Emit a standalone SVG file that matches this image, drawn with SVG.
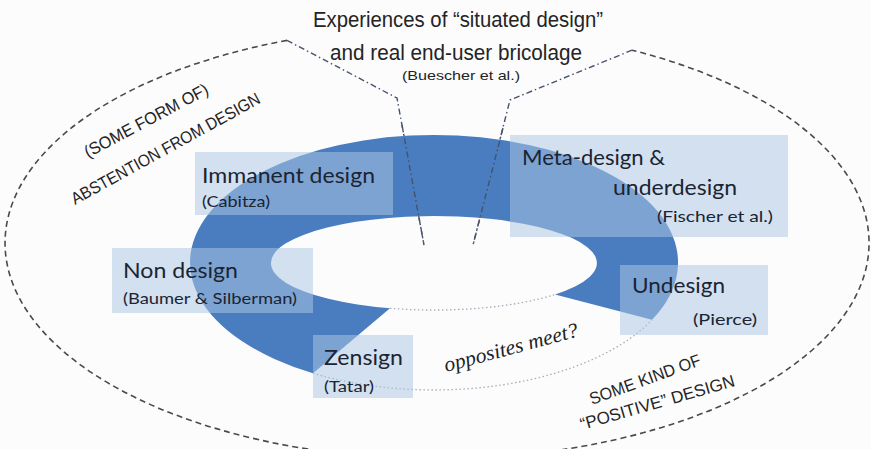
<svg xmlns="http://www.w3.org/2000/svg" width="871" height="449" viewBox="0 0 871 449">
  <style>
    .lbl { font-family: Lato, "Open Sans", "Noto Sans", sans-serif; fill: #1b2433; }
    .main { font-size: 22px; }
    .ref { font-size: 15px; }
    .box { fill: #acc6e2; fill-opacity: 0.53; }
    .cap { font-family: "Liberation Sans", Arial, sans-serif; fill: #242424; }
    .dash { fill: none; stroke: #4a4a4a; stroke-width: 1.6; stroke-dasharray: 6 4; }
    .dashdot { fill: none; stroke: #46526a; stroke-width: 1.4; stroke-dasharray: 6 3 1.5 3; }
    .dot { fill: none; stroke: #a3adbb; stroke-width: 1.3; stroke-dasharray: 1.5 2.5; }
  </style>

  <rect width="871" height="449" fill="#fcfcfd"/>

  <!-- outer dashed boundary and the dash-dot notch at the top -->
  <g id="connectors">
    <path class="dash" d="M 287,40.4 A 432 216 0 1 0 632,50.2"/>
    <path class="dashdot" d="M 287,40.4 L 397,98 L 424,245"/>
    <path class="dashdot" d="M 632,50.2 L 510,100 L 473,245"/>
    <!-- dotted continuation of the ring across the gap -->
    <path class="dot" d="M 390,308.3 A 163 47 0 0 0 555,294.5"/>
    <path class="dot" d="M 313,373.2 A 244 127.5 0 0 0 652,319.8"/>
  </g>

  <!-- open ring -->
  <g id="ring">
    <path fill="#4a7cc0" d="M 313,373.2 A 244 127.5 0 1 1 652,319.8 L 555,294.5 A 163 47 0 1 0 390,308.3 Z"/>
  </g>
  <g id="ring-guides">
    <path class="dashdot" d="M 402,125 L 424,245"/>
    <path class="dashdot" d="M 503,128 L 473,245"/>
  </g>

  <!-- header -->
  <g id="situated-design">
    <text class="cap" x="313" y="27" font-size="22" textLength="290" lengthAdjust="spacingAndGlyphs">Experiences of “situated design”</text>
    <text class="cap" x="330" y="60" font-size="22" textLength="252" lengthAdjust="spacingAndGlyphs">and real end-user bricolage</text>
    <text class="cap" x="402" y="80" font-size="13" textLength="118" lengthAdjust="spacingAndGlyphs">(Buescher et al.)</text>
  </g>

  <g id="abstention">
    <text class="cap" font-size="17" transform="translate(88,158) rotate(-28)" textLength="138" lengthAdjust="spacingAndGlyphs">(SOME FORM OF)</text>
    <text class="cap" font-size="17" transform="translate(75,205) rotate(-28.8)" textLength="213" lengthAdjust="spacingAndGlyphs">ABSTENTION FROM DESIGN</text>
  </g>

  <g id="positive">
    <text class="cap" font-size="17" transform="translate(592,405) rotate(-20)" textLength="117" lengthAdjust="spacingAndGlyphs">SOME KIND OF</text>
    <text class="cap" font-size="17" transform="translate(582,430) rotate(-16)" textLength="160" lengthAdjust="spacingAndGlyphs">“POSITIVE” DESIGN</text>
  </g>

  <g id="immanent-design">
    <rect class="box" x="195" y="152" width="198" height="63"/>
    <text class="lbl main" x="202" y="183" textLength="173" lengthAdjust="spacingAndGlyphs">Immanent design</text>
    <text class="lbl ref" x="202" y="207" textLength="68" lengthAdjust="spacingAndGlyphs">(Cabitza)</text>
  </g>

  <g id="meta-design">
    <rect class="box" x="510" y="135" width="278" height="102"/>
    <text class="lbl main" x="522" y="165" textLength="143" lengthAdjust="spacingAndGlyphs">Meta-design &amp;</text>
    <text class="lbl main" x="613" y="195" textLength="124" lengthAdjust="spacingAndGlyphs">underdesign</text>
    <text class="lbl ref" x="657" y="222" textLength="116" lengthAdjust="spacingAndGlyphs">(Fischer et al.)</text>
  </g>

  <g id="non-design">
    <rect class="box" x="112" y="248" width="201" height="65"/>
    <text class="lbl main" x="123" y="278" textLength="115" lengthAdjust="spacingAndGlyphs">Non design</text>
    <text class="lbl ref" x="123" y="304" textLength="174" lengthAdjust="spacingAndGlyphs">(Baumer &amp; Silberman)</text>
  </g>

  <g id="zensign">
    <rect class="box" x="313" y="335" width="100" height="63"/>
    <text class="lbl main" x="324" y="365" textLength="79" lengthAdjust="spacingAndGlyphs">Zensign</text>
    <text class="lbl ref" x="324" y="392" textLength="50" lengthAdjust="spacingAndGlyphs">(Tatar)</text>
  </g>

  <g id="undesign">
    <rect class="box" x="620" y="265" width="148" height="70"/>
    <text class="lbl main" x="632" y="293" textLength="93" lengthAdjust="spacingAndGlyphs">Undesign</text>
    <text class="lbl ref" x="693" y="325" textLength="64" lengthAdjust="spacingAndGlyphs">(Pierce)</text>
  </g>

  <g id="opposites-meet">
    <text font-family="'Liberation Serif', 'DejaVu Serif', serif" font-style="italic" font-size="21" fill="#222" transform="translate(446,372) rotate(-15)" textLength="138" lengthAdjust="spacingAndGlyphs">opposites meet?</text>
  </g>
</svg>
